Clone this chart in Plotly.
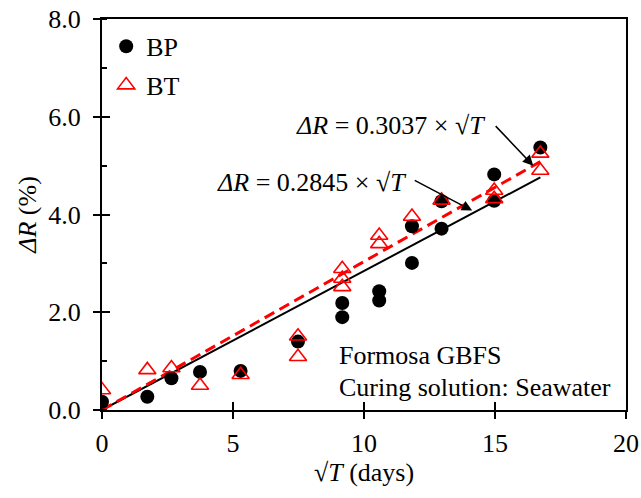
import plotly.graph_objects as go

# ---- data ----
bp_x = [0, 1.73, 2.65, 3.74, 5.29, 7.48, 9.17, 9.17, 10.58, 10.58, 11.83, 11.83, 12.96, 12.96, 14.97, 14.97, 16.73]
bp_y = [0.17, 0.27, 0.65, 0.78, 0.80, 1.40, 2.19, 1.90, 2.43, 2.24, 3.01, 3.76, 3.71, 4.27, 4.82, 4.28, 5.37]

bt_x = [0, 1.73, 2.65, 3.74, 5.29, 7.48, 7.48, 9.17, 9.17, 9.17, 10.58, 10.58, 11.83, 12.96, 14.97, 14.97, 16.73, 16.73]
bt_y = [0.41, 0.82, 0.86, 0.50, 0.72, 1.51, 1.09, 2.89, 2.69, 2.52, 3.57, 3.40, 3.96, 4.29, 4.49, 4.32, 5.25, 4.90]

fit_labels = ["BP fit", "BT fit"]
fit_slopes = [0.2845, 0.3037]
fit_x = [0, 16.73]

x_ticks = [0, 5, 10, 15, 20]
y_ticks = [0, 2, 4, 6, 8]

FONT = "Liberation Serif, Times New Roman, serif"
FS = 26

fig = go.Figure()

fig.add_trace(go.Scatter(
    x=fit_x, y=[fit_slopes[0] * v for v in fit_x], mode="lines",
    line=dict(color="black", width=2), showlegend=False, hoverinfo="skip"))
fig.add_trace(go.Scatter(
    x=fit_x, y=[fit_slopes[1] * v for v in fit_x], mode="lines",
    line=dict(color="#ff0000", width=3, dash="11px,6px"), showlegend=False, hoverinfo="skip"))

fig.add_trace(go.Scatter(
    x=bp_x, y=bp_y, mode="markers", name="BP", legendgroup="a",
    marker=dict(symbol="circle", size=14, color="black", line=dict(width=0))))
fig.add_trace(go.Scatter(
    x=bt_x, y=bt_y, mode="markers", name="BT", legendgroup="b",
    marker=dict(symbol="triangle-up-open", size=15, color="#ff0000", line=dict(width=1.6, color="#ff0000"))))

# dummy trace for overlay axes (inside tick halves)
fig.add_trace(go.Scatter(x=[None], y=[None], xaxis="x2", yaxis="y2", showlegend=False, hoverinfo="skip"))

axis_common = dict(showgrid=False, zeroline=False, linecolor="black", linewidth=2,
                   tickcolor="black", tickwidth=2, automargin=False,
                   tickfont=dict(family=FONT, size=FS, color="black"))

fig.update_layout(
    width=641, height=498,
    margin=dict(l=102, r=15, t=19, b=88),
    plot_bgcolor="white", paper_bgcolor="white",
    font=dict(family=FONT, size=FS, color="black"),
    xaxis=dict(range=[0, 20], tickvals=x_ticks, ticktext=[str(v) for v in x_ticks],
               ticks="outside", ticklen=7, mirror=True, showline=True, ticklabelstandoff=2,
               title=dict(text="√<i>T</i> (days)", font=dict(family=FONT, size=FS), standoff=0),
               **axis_common),
    yaxis=dict(range=[0, 8], tickvals=y_ticks, ticktext=[f"{v:.1f}" for v in y_ticks],
               ticks="outside", ticklen=7, mirror=True, showline=True, ticklabelstandoff=7,
               minor=dict(dtick=1, ticks="inside", ticklen=5, tickwidth=1.5, tickcolor="black"),
               title=dict(text="<i>ΔR</i> (%)", font=dict(family=FONT, size=FS), standoff=4),
               **axis_common),
    xaxis2=dict(range=[0, 20], overlaying="x", side="bottom", tickvals=x_ticks, automargin=False,
                ticks="inside", ticklen=8, tickwidth=2, tickcolor="black",
                showticklabels=False, showline=False, showgrid=False, zeroline=False),
    yaxis2=dict(range=[0, 8], overlaying="y", side="left", tickvals=y_ticks, automargin=False,
                ticks="inside", ticklen=8, tickwidth=2, tickcolor="black",
                showticklabels=False, showline=False, showgrid=False, zeroline=False),
    legend=dict(x=0.008, y=0.99, xanchor="left", yanchor="top", bgcolor="rgba(0,0,0,0)",
                font=dict(family=FONT, size=FS), tracegroupgap=2, itemwidth=30),
    showlegend=True,
)

ann_font = dict(family=FONT, size=FS, color="black")
fig.add_annotation(x=14.71, y=5.82, xref="x", yref="y", xanchor="right", yanchor="middle",
                   text="<i>ΔR</i> = 0.3037 × √<i>T</i>", showarrow=False, font=ann_font)
fig.add_annotation(x=11.69, y=4.65, xref="x", yref="y", xanchor="right", yanchor="middle",
                   text="<i>ΔR</i> = 0.2845 × √<i>T</i>", showarrow=False, font=ann_font)
fig.add_annotation(x=16.46, y=5.0, xref="x", yref="y", ax=-39, ay=-41, text="",
                   showarrow=True, arrowhead=2, arrowsize=1.4, arrowwidth=1.5, arrowcolor="black")
fig.add_annotation(x=14.13, y=4.08, xref="x", yref="y", ax=-59, ay=-31, text="",
                   showarrow=True, arrowhead=2, arrowsize=1.4, arrowwidth=1.5, arrowcolor="black")
fig.add_annotation(x=8.98, y=1.12, xref="x", yref="y", xanchor="left", yanchor="middle",
                   text="Formosa GBFS", showarrow=False, font=ann_font)
fig.add_annotation(x=8.98, y=0.47, xref="x", yref="y", xanchor="left", yanchor="middle",
                   text="Curing solution: Seawater", showarrow=False, font=ann_font)

# remove the default 8px page margin so the figure sits at the window's top-left corner
fig.write_html("out.html", config={"displayModeBar": False},
               post_script="document.body.style.margin='0';")
